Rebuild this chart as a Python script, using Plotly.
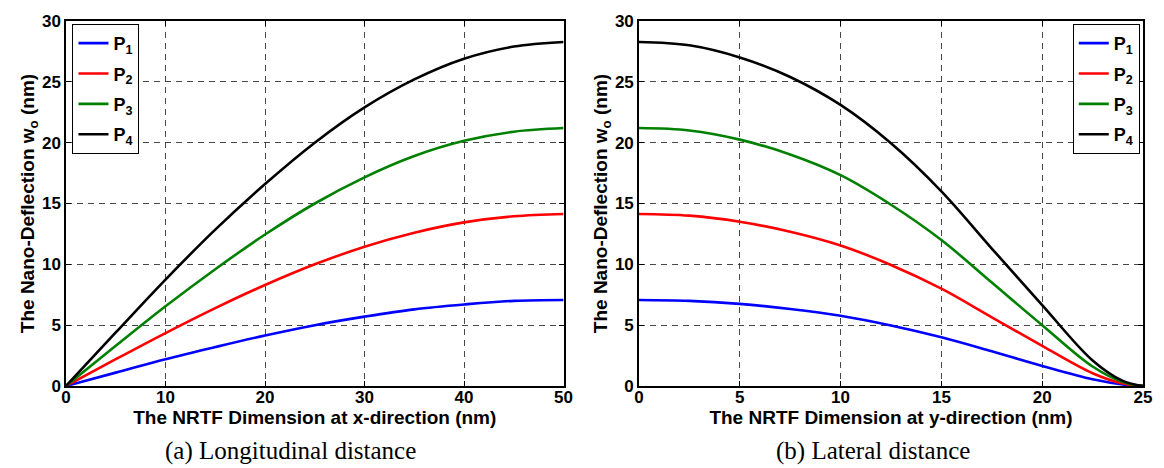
import plotly.graph_objects as go

# Longitudinal profile (x-direction), deflection in nm
x_pos = [0, 5, 10, 15, 20, 25, 30, 35, 40, 45, 50]
long_p1 = [0, 1.1, 2.2, 3.2, 4.15, 5.0, 5.7, 6.3, 6.7, 7.0, 7.07]
long_p2 = [0, 2.2, 4.35, 6.4, 8.3, 10.0, 11.45, 12.6, 13.45, 13.95, 14.14]
long_p3 = [0, 3.3, 6.55, 9.6, 12.45, 15.0, 17.15, 18.9, 20.15, 20.9, 21.2]
long_p4 = [0, 4.4, 8.75, 12.85, 16.6, 20.0, 22.9, 25.2, 26.9, 27.9, 28.28]

# Lateral profile (y-direction), deflection in nm
y_pos = [0, 2.5, 5, 7.5, 10, 12.5, 15, 17.5, 20, 22.5, 24, 25]
lat_p1 = [7.07, 7.0, 6.75, 6.33, 5.77, 4.97, 4.0, 2.85, 1.65, 0.55, 0.12, 0]
lat_p2 = [14.14, 14.0, 13.5, 12.68, 11.55, 9.95, 8.0, 5.65, 3.3, 1.05, 0.2, 0]
lat_p3 = [21.2, 21.0, 20.25, 19.03, 17.33, 14.9, 12.0, 8.5, 5.0, 1.6, 0.32, 0]
lat_p4 = [28.28, 28.0, 27.0, 25.4, 23.1, 19.95, 16.0, 11.3, 6.65, 2.1, 0.42, 0]

names = ["P<sub>1</sub>", "P<sub>2</sub>", "P<sub>3</sub>", "P<sub>4</sub>"]
colors = ["#0000FF", "#FF0000", "#008000", "#000000"]

fig = go.Figure()

for i, ys in enumerate([long_p1, long_p2, long_p3, long_p4]):
    fig.add_trace(go.Scatter(
        x=x_pos, y=ys, mode="lines", name=names[i],
        line=dict(color=colors[i], width=2.6, shape="spline", smoothing=1.0),
        xaxis="x", yaxis="y", legend="legend", legendgroup=f"a{i}",
    ))

for i, ys in enumerate([lat_p1, lat_p2, lat_p3, lat_p4]):
    fig.add_trace(go.Scatter(
        x=y_pos, y=ys, mode="lines", name=names[i],
        line=dict(color=colors[i], width=2.6, shape="spline", smoothing=1.0),
        xaxis="x2", yaxis="y2", legend="legend2", legendgroup=f"b{i}",
    ))

tick_font = dict(family="Liberation Sans, Arial", size=17, color="black", weight="bold")
title_font = dict(family="Liberation Sans, Arial", size=19, color="black", weight="bold")
legend_font = dict(family="Liberation Sans, Arial", size=18, color="black", weight="bold")

axis_common = dict(
    showline=True, linecolor="black", linewidth=1.5, mirror="ticks",
    ticks="inside", ticklen=5, tickcolor="black",
    showgrid=True, gridcolor="rgba(40,40,40,0.85)", gridwidth=1, griddash="6px,5px",
    zeroline=False, tickfont=tick_font,
)

ytitle = "The Nano-Deflection w<sub>o</sub> (nm)"

fig.update_layout(
    width=1164, height=468,
    margin=dict(l=66, r=18, t=14, b=82),
    paper_bgcolor="white", plot_bgcolor="white",
    xaxis=dict(domain=[0, 0.462], range=[0, 50], dtick=10, anchor="y", ticklabelstandoff=-5,
               title=dict(text="The NRTF Dimension at x-direction (nm)", font=title_font, standoff=0),
               **axis_common),
    yaxis=dict(range=[0, 30], dtick=5, anchor="x",
               title=dict(text=ytitle, font=title_font, standoff=2),
               **axis_common),
    xaxis2=dict(domain=[0.532, 1], range=[0, 25], dtick=5, anchor="y2", ticklabelstandoff=-5,
                title=dict(text="The NRTF Dimension at y-direction (nm)", font=title_font, standoff=0),
                **axis_common),
    yaxis2=dict(range=[0, 30], dtick=5, anchor="x2",
                title=dict(text=ytitle, font=title_font, standoff=2),
                **axis_common),
    legend=dict(x=0.006, y=0.992, xanchor="left", yanchor="top",
                bgcolor="white", bordercolor="black", borderwidth=1,
                font=legend_font, tracegroupgap=4, itemwidth=30),
    legend2=dict(x=0.997, y=0.992, xanchor="right", yanchor="top",
                 bgcolor="white", bordercolor="black", borderwidth=1,
                 font=legend_font, tracegroupgap=4, itemwidth=30),
    annotations=[
        dict(text="(a) Longitudinal distance", x=291, y=452, xanchor="center", yanchor="middle",
             xref="paper", yref="paper", showarrow=False,
             font=dict(family="Liberation Serif, Times New Roman", size=25, color="black")),
        dict(text="(b) Lateral distance", x=875, y=452, xanchor="center", yanchor="middle",
             xref="paper", yref="paper", showarrow=False,
             font=dict(family="Liberation Serif, Times New Roman", size=25, color="black")),
    ],
)

# Caption positions are given in pixels; convert them to paper coordinates
plot_w = 1164 - 66 - 18
plot_h = 468 - 14 - 82
for ann in fig.layout.annotations:
    ann.x = (ann.x - 66) / plot_w
    ann.y = 1 - (ann.y - 14) / plot_h

fig.write_html("out.html")
